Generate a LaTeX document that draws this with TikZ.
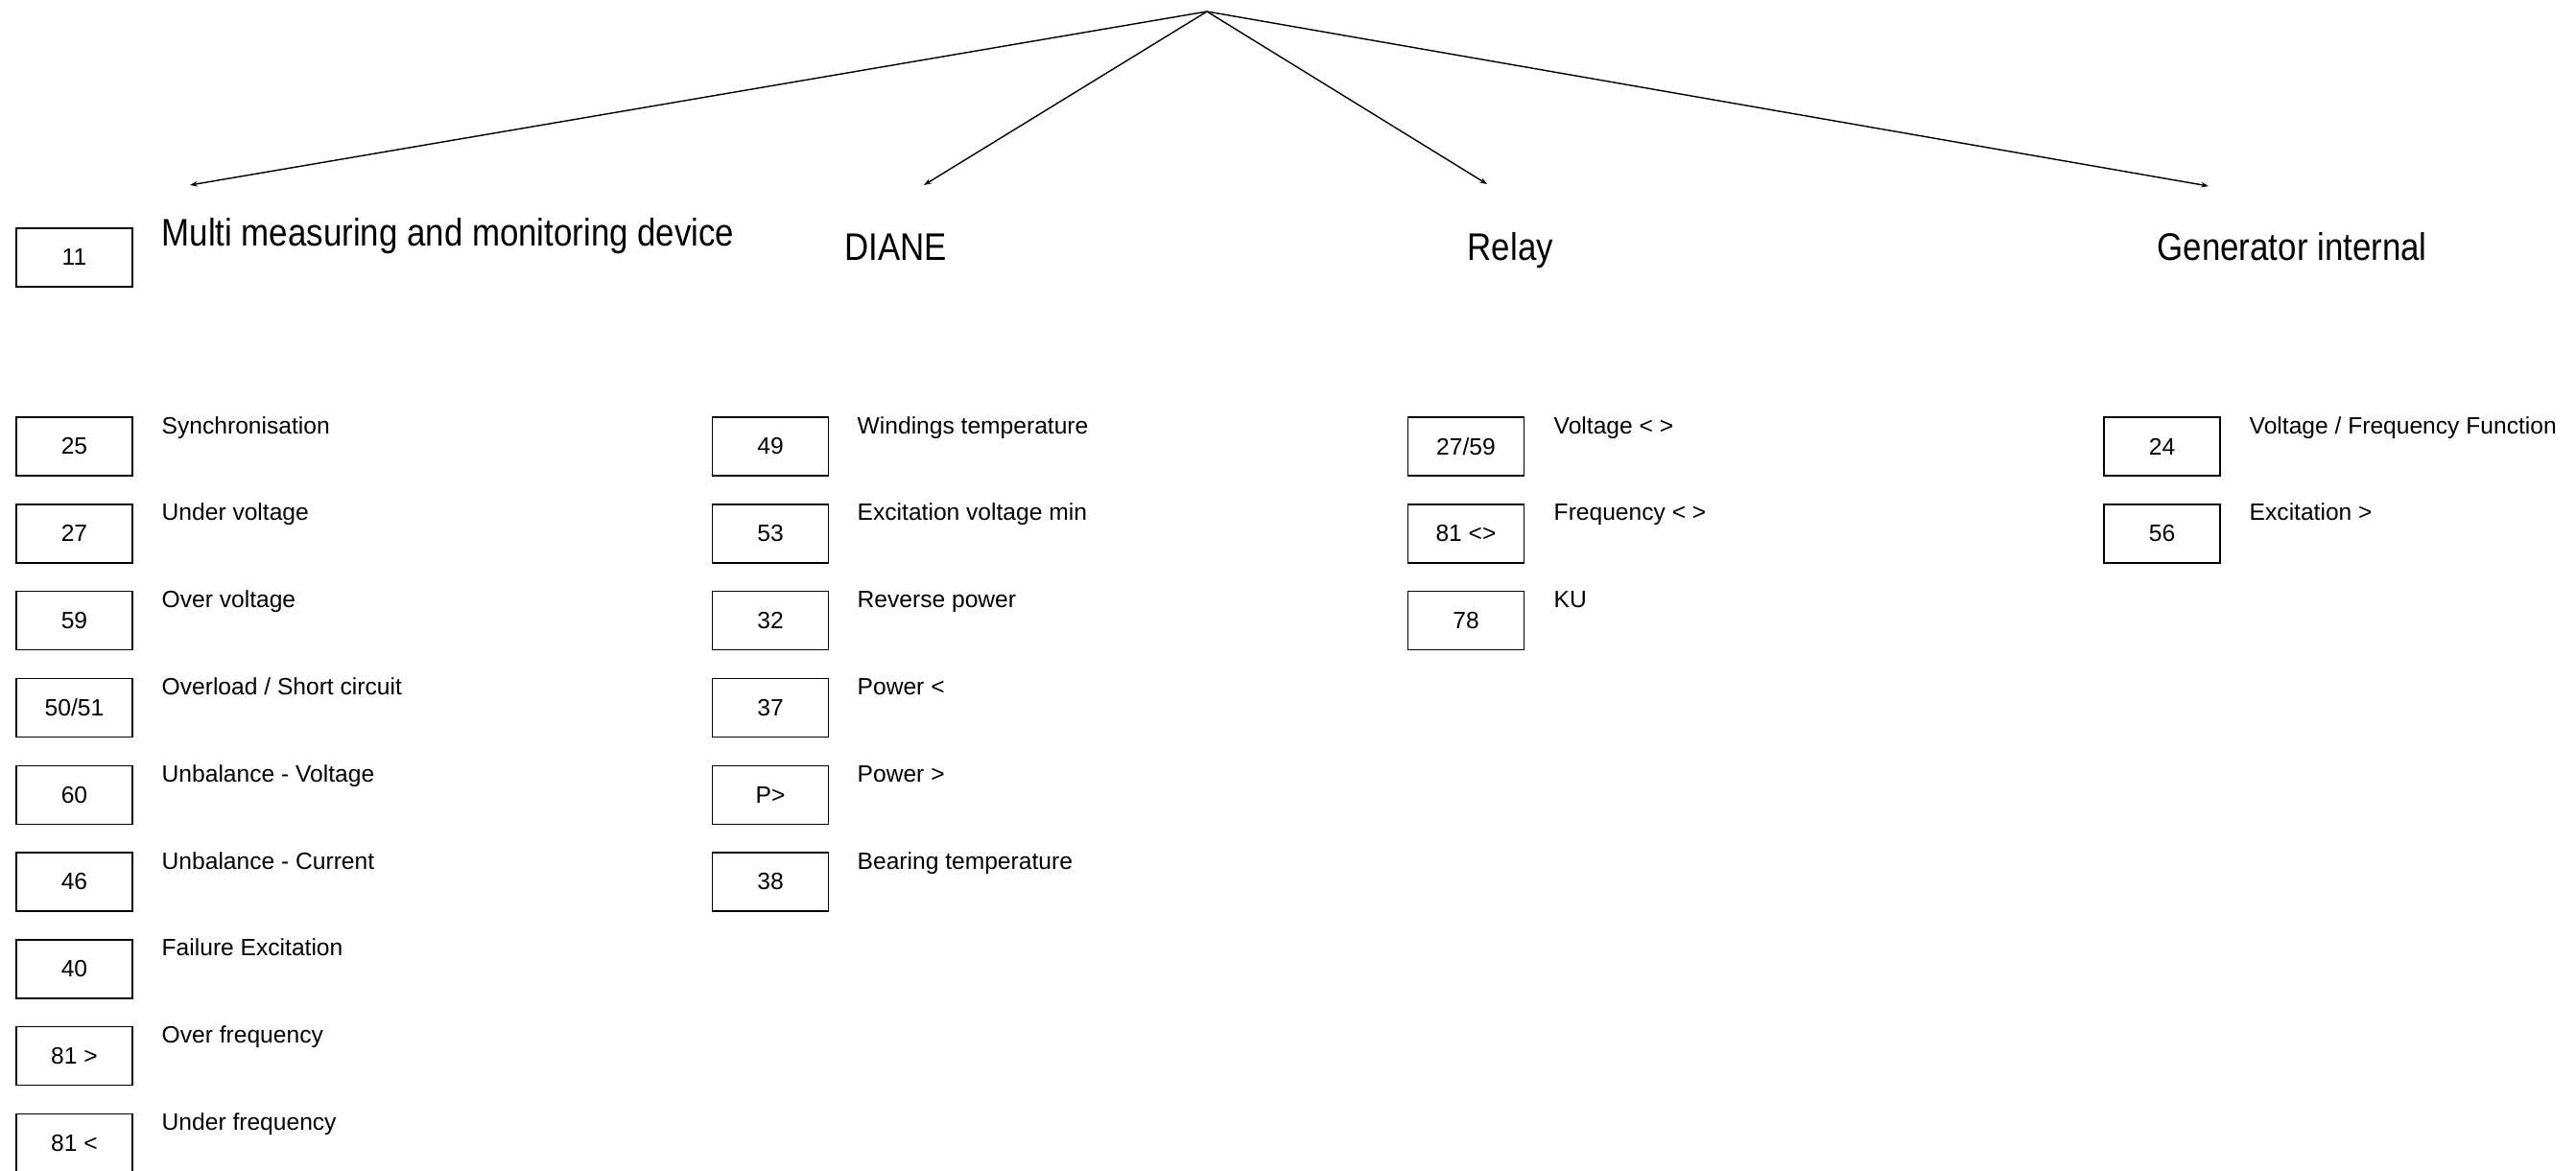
\documentclass[tikz,border=0pt]{standalone}
\usepackage{fontspec}
\setmainfont{Liberation Sans}
\newfontfamily\headfont[FakeStretch=0.87]{Liberation Sans}
\usetikzlibrary{arrows.meta}

\begin{document}
\begin{tikzpicture}[
        numbox/.style={draw, line width=0.4pt, minimum width=1.21cm, minimum height=0.61cm, inner sep=0pt, font=\fontsize{7}{8.4}\selectfont},
        lbl/.style={anchor=base west, inner sep=0pt, font=\fontsize{7}{8.4}\selectfont},
        head/.style={anchor=base west, inner sep=0pt, font=\headfont\fontsize{11.4}{13.5}\selectfont},
        branch/.style={line width=0.4pt, -{Stealth[length=2.2pt, width=1.6pt]}}
    ]
        \useasboundingbox (0,0) rectangle (26.85,12.2);

        % --- Root and arrow ends ---
        \coordinate (root) at (12.58,12.08);
        \coordinate (tipMulti) at (1.98,10.27);
        \coordinate (tipDiane) at (9.63,10.27);
        \coordinate (tipRelay) at (15.50,10.28);
        \coordinate (tipGen)   at (23.02,10.26);

        % --- Branches ---
        \draw[branch] (root) -- (tipMulti);
        \draw[branch] (root) -- (tipDiane);
        \draw[branch] (root) -- (tipRelay);
        \draw[branch] (root) -- (tipGen);

        % --- Group headings ---
        \node[numbox] (b11) at (0.775,9.515) {11};
        \node[head] (hMulti) at (1.68,9.64) {Multi measuring and monitoring device};
        \node[head] (hDiane) at (8.80,9.485) {DIANE};
        \node[head] (hRelay) at (15.29,9.485) {Relay};
        \node[head] (hGen)   at (22.48,9.485) {Generator internal};

        % --- Multi measuring and monitoring device ---
        \node[numbox] (b25)  at (0.775,7.545) {25};
        \node[lbl] at (1.68,7.68)  {Synchronisation};
        \node[numbox] (b27)  at (0.775,6.637) {27};
        \node[lbl] at (1.68,6.772) {Under voltage};
        \node[numbox] (b59)  at (0.775,5.729) {59};
        \node[lbl] at (1.68,5.864) {Over voltage};
        \node[numbox] (b5051) at (0.775,4.821) {50/51};
        \node[lbl] at (1.68,4.956) {Overload / Short circuit};
        \node[numbox] (b60)  at (0.775,3.913) {60};
        \node[lbl] at (1.68,4.048) {Unbalance - Voltage};
        \node[numbox] (b46)  at (0.775,3.005) {46};
        \node[lbl] at (1.68,3.14)  {Unbalance - Current};
        \node[numbox] (b40)  at (0.775,2.097) {40};
        \node[lbl] at (1.68,2.232) {Failure Excitation};
        \node[numbox] (b81o) at (0.775,1.189) {81 >};
        \node[lbl] at (1.68,1.324) {Over frequency};
        \node[numbox] (b81u) at (0.775,0.281) {81 <};
        \node[lbl] at (1.68,0.416) {Under frequency};

        % --- DIANE ---
        \node[numbox] (b49) at (8.03,7.545) {49};
        \node[lbl] at (8.93,7.68)  {Windings temperature};
        \node[numbox] (b53) at (8.03,6.637) {53};
        \node[lbl] at (8.93,6.772) {Excitation voltage min};
        \node[numbox] (b32) at (8.03,5.729) {32};
        \node[lbl] at (8.93,5.864) {Reverse power};
        \node[numbox] (b37) at (8.03,4.821) {37};
        \node[lbl] at (8.93,4.956) {Power <};
        \node[numbox] (bP)  at (8.03,3.913) {P>};
        \node[lbl] at (8.93,4.048) {Power >};
        \node[numbox] (b38) at (8.03,3.005) {38};
        \node[lbl] at (8.93,3.14)  {Bearing temperature};

        % --- Relay ---
        \node[numbox] (b2759) at (15.28,7.545) {27/59};
        \node[lbl] at (16.19,7.68)  {Voltage < >};
        \node[numbox] (b81)   at (15.28,6.637) {81 <>};
        \node[lbl] at (16.19,6.772) {Frequency < >};
        \node[numbox] (b78)   at (15.28,5.729) {78};
        \node[lbl] at (16.19,5.864) {KU};

        % --- Generator internal ---
        \node[numbox] (b24) at (22.535,7.545) {24};
        \node[lbl] at (23.44,7.68)  {Voltage / Frequency Function};
        \node[numbox] (b56) at (22.535,6.637) {56};
        \node[lbl] at (23.44,6.772) {Excitation >};
    \end{tikzpicture}
\end{document}
